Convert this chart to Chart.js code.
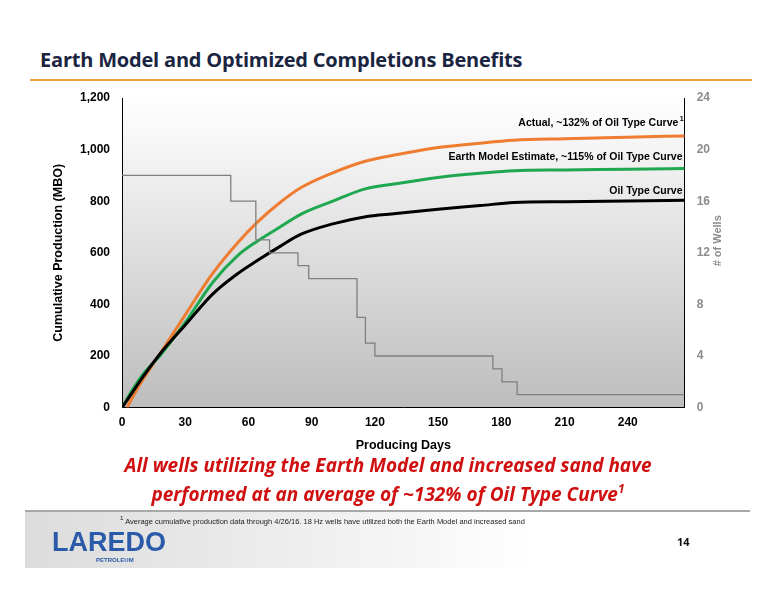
<!DOCTYPE html>
<html><head><meta charset="utf-8">
<script src="https://cdn.jsdelivr.net/npm/chart.js@4"></script>
<style>
body{margin:0;width:776px;height:600px;background:#fff;position:relative;overflow:hidden;font-family:"Open Sans",sans-serif}
#title{position:absolute;left:40px;top:46px;font-size:20px;font-weight:bold;color:#1a2541;font-family:"Open Sans";letter-spacing:-0.2px}
#rule{position:absolute;left:30px;top:79px;width:722px;height:2px;background:#e8a13a}
#c{position:absolute;left:0;top:0}
#msg{position:absolute;left:0;width:776px;top:451px;text-align:center;color:#d01010;font-style:italic;font-weight:bold;font-size:19px;line-height:29px;font-family:"Open Sans"}
#msg sup{font-size:12px;line-height:0;vertical-align:0;position:relative;top:-8px}
#footer{position:absolute;left:25px;top:510px;width:725px;height:56px;background:linear-gradient(90deg,#dcdcdc 0%,#f4f4f4 50%,#fff 70%);border-top:2px solid #a8a8a8}
#note{position:absolute;left:120px;top:514px;font-size:7.5px;color:#222;font-family:"Liberation Sans Narrow","Liberation Sans"}
#logo{position:absolute;left:52px;top:527px;color:#2a5aa8;font-size:27px;font-weight:bold;font-family:"Liberation Sans"}
#pet{position:absolute;left:96px;top:557px;color:#2a5aa8;font-size:6px;font-weight:bold;font-family:"Liberation Sans"}
#pg{position:absolute;left:677px;top:534px;font-size:11px;font-weight:bold;color:#111}
</style></head><body>
<div id="title">Earth Model and Optimized Completions Benefits</div>
<div id="rule"></div>
<canvas id="c" width="776" height="600"></canvas>
<div id="msg">All wells utilizing the Earth Model and increased sand have<br>performed at an average of ~132% of Oil Type Curve<sup>1</sup></div>
<div id="footer"></div>
<div id="note"><sup>1</sup> Average cumulative production data through 4/26/16. 18 Hz wells have utilized both the Earth Model and increased sand</div>
<div id="logo">LAREDO</div>
<div id="pet">PETROLEUM</div>
<div id="pg">14</div>
<script>
const days = [0,5,10,18,30,43,55,64,75,85,100,115,130,150,170,186,210,240,267];
const oilType = [0,60,120,208,320,440,520,569,625,672,712,739,752,769,783,795,798,801,804];
const earthModel = [0,70,130,201,330,485,590,644,700,750,800,847,868,892,908,918,921,924,927];
const actualDays = [2.4,5,10,18,30,43,55,64,75,85,100,115,130,150,170,186,210,240,267];
const actual = [0,40,110,208,360,520,640,717,795,853,910,954,980,1008,1025,1036,1042,1048,1053];
const wellDays = [0,51.6,61.6,63.5,70,83.5,88.6,111.5,113,115.5,120,176,180.3,187.5,267];
const wells = [18,16,16,13,12,11,10,7,7,5,4,3,2,1,1];
const pts=(xs,ys)=>xs.map((x,i)=>({x,y:ys[i]}));
const lineLabels={id:'ll',afterDatasetsDraw(ch){const {ctx,scales:{x,y}}=ch;ctx.save();ctx.font='bold 10.5px "Liberation Sans"';ctx.fillStyle='#000';ctx.textAlign='right';
ctx.fillText('Actual, ~132% of Oil Type Curve',x.getPixelForValue(264),y.getPixelForValue(1093));
ctx.font='bold 7px "Liberation Sans"';ctx.fillText('1',x.getPixelForValue(266.5),y.getPixelForValue(1112));
ctx.font='bold 10.5px "Liberation Sans"';
ctx.fillText('Earth Model Estimate, ~115% of Oil Type Curve',x.getPixelForValue(266),y.getPixelForValue(958));
ctx.fillText('Oil Type Curve',x.getPixelForValue(266),y.getPixelForValue(826));
const a=ch.chartArea;ctx.translate(a.right+36,(a.top+a.bottom)/2-12);ctx.rotate(-Math.PI/2);ctx.textAlign='center';ctx.fillStyle='#8c8c8c';ctx.font='bold 11px "Liberation Sans"';ctx.fillText('# of Wells',0,0);
ctx.restore();}};
const bg={id:'bg',beforeDraw(ch){const {ctx,chartArea:a}=ch;const g=ctx.createLinearGradient(0,a.top,0,a.bottom);g.addColorStop(0,'#ffffff');g.addColorStop(1,'#bdbdbd');ctx.fillStyle=g;ctx.fillRect(a.left,a.top,a.right-a.left,a.bottom-a.top);}};
new Chart(document.getElementById('c'),{type:'line',
data:{datasets:[
{data:pts(wellDays,wells),yAxisID:'y2',stepped:'before',borderColor:'#7f7f7f',borderWidth:1.3,pointRadius:0},
{data:pts(days,oilType),borderColor:'#000',borderWidth:3,pointRadius:0,cubicInterpolationMode:'monotone'},
{data:pts(days,earthModel),borderColor:'#1fa84f',borderWidth:3,pointRadius:0,cubicInterpolationMode:'monotone'},
{data:pts(actualDays,actual),borderColor:'#ee7d31',borderWidth:3,pointRadius:0,cubicInterpolationMode:'monotone'}]},
options:{responsive:false,animation:false,layout:{padding:{left:47,top:98,right:54,bottom:147}},
plugins:{legend:{display:false},tooltip:{enabled:false}},
scales:{
x:{type:'linear',min:0,max:267,grid:{display:false,drawTicks:false},border:{color:'#000',width:1},
ticks:{stepSize:30,padding:8,color:'#000',font:{family:'Liberation Sans',weight:'bold',size:12},callback:v=>v%30===0&&v<=240?v:''},
title:{display:true,text:'Producing Days',color:'#000',font:{family:'Liberation Sans',weight:'bold',size:12.5},padding:{top:0,bottom:0}}},
y:{min:0,max:1200,grid:{display:false,drawTicks:false},border:{color:'#000'},
ticks:{stepSize:200,padding:12,color:'#000',font:{family:'Liberation Sans',weight:'bold',size:12},callback:v=>v.toLocaleString('en-US')},
title:{display:true,text:'Cumulative Production (MBO)',color:'#000',font:{family:'Liberation Sans',weight:'bold',size:12.5},padding:{bottom:2}}},
y2:{position:'right',min:0,max:24,grid:{display:false,drawTicks:false},border:{color:'#000'},
ticks:{stepSize:4,padding:12,color:'#8c8c8c',font:{family:'Liberation Sans',weight:'bold',size:12}}}}},
plugins:[bg,lineLabels]});
</script></body></html>
